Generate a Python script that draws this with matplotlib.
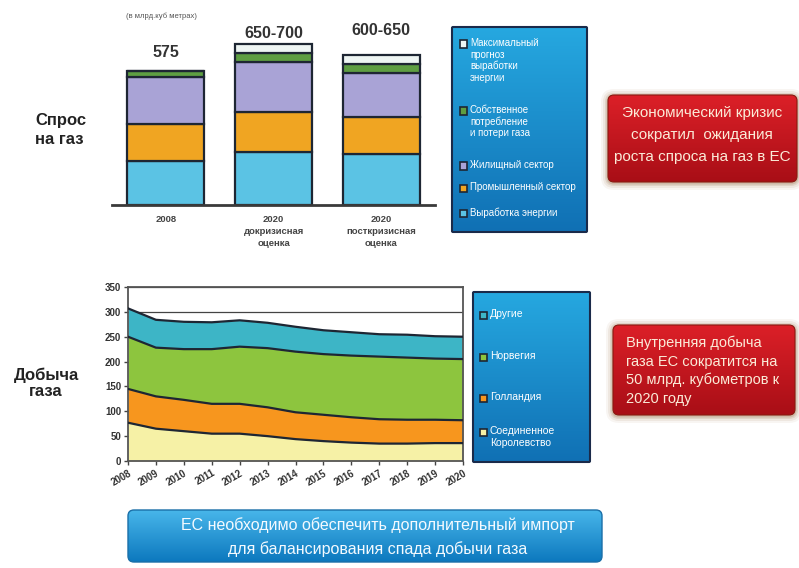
import numpy as np
import matplotlib
matplotlib.use('Agg')
import matplotlib.pyplot as plt
from matplotlib.patches import FancyBboxPatch, Rectangle
from matplotlib.colors import LinearSegmentedColormap

W, H = 799, 568

# ---------------- data ----------------
demand_categories = ['2008', '2020\nдокризисная\nоценка', '2020\nпосткризисная\nоценка']
demand_totals = ['575', '650-700', '600-650']
power_generation = [190, 227, 219]
industrial = [158, 172, 159]
residential = [200, 215, 189]
own_use_losses = [27, 39, 39]
max_power_forecast = [0, 39, 39]
demand_legend = ['Максимальный\nпрогноз\nвыработки\nэнергии',
                 'Собственное\nпотребление\nи потери газа',
                 'Жилищный сектор', 'Промышленный сектор', 'Выработка энергии']

years = list(range(2008, 2021))
uk = [77, 65, 60, 55, 55, 50, 44, 40, 37, 35, 35, 36, 36]
netherlands = [68, 65, 63, 60, 60, 58, 54, 53, 51, 49, 48, 47, 46]
norway = [105, 98, 102, 110, 115, 119, 122, 122, 124, 126, 125, 123, 123]
others = [57, 56, 55, 54, 53, 51, 50, 48, 47, 45, 46, 45, 45]
supply_legend = ['Другие', 'Норвегия', 'Голландия', 'Соединенное\nКоролевство']

# ---------------- styles ----------------
NARROW = ['Liberation Sans Narrow', 'Liberation Sans', 'DejaVu Sans']
SANS = ['Liberation Sans', 'DejaVu Sans']
plt.rcParams['font.family'] = SANS

bar_colors = ['#5BC3E4', '#F0A522', '#A9A3D6', '#5E9E42', '#EEF5F3']
area_colors = ['#F6F1A6', '#F7961E', '#8DC53E', '#3DB5C6']
edge_dark = '#1E2633'

fig = plt.figure(figsize=(W / 100, H / 100), dpi=100)
fig.patch.set_facecolor('white')


def px_axes(x0, y0, x1, y1, **kw):
    return fig.add_axes([x0 / W, 1 - y1 / H, (x1 - x0) / W, (y1 - y0) / H], **kw)


def ftext(x, y, s, **kw):
    return fig.text(x / W, 1 - y / H, s, **kw)


def gradient_box(x0, y0, x1, y1, ctop, cbot, edge, lw, radius, pad=10, shadow=None):
    ax = px_axes(x0 - pad, y0 - pad, x1 + pad, y1 + pad)
    w, h = x1 - x0, y1 - y0
    ax.axis('off')
    if shadow is not None:
        for k, a in [(7, 0.06), (5, 0.09), (3, 0.14), (1.5, 0.2)]:
            ax.add_patch(FancyBboxPatch((radius, radius - 1), w - 2 * radius, h - 2 * radius,
                                        boxstyle=f'round,pad={radius + k}',
                                        fc=shadow, ec='none', alpha=a, zorder=0))
    cmap = LinearSegmentedColormap.from_list('g', [cbot, ctop])
    grad = np.linspace(0, 1, 256).reshape(-1, 1)
    im = ax.imshow(grad, extent=(0, w, 0, h), origin='lower', cmap=cmap, aspect='auto', zorder=1)
    patch = FancyBboxPatch((radius, radius), w - 2 * radius, h - 2 * radius,
                           boxstyle=f'round,pad={radius}', fc='none', ec=edge, lw=lw, zorder=2)
    ax.add_patch(patch)
    im.set_clip_path(patch)
    ax.set_xlim(-pad, w + pad)
    ax.set_ylim(-pad, h + pad)
    return ax


# ---------------- top: demand bar chart ----------------
axb = px_axes(112, 19, 435, 205)
x = np.arange(len(demand_categories))
stack = [power_generation, industrial, residential, own_use_losses, max_power_forecast]
bottom = np.zeros(len(x))
for vals, c in zip(stack, bar_colors):
    axb.bar(x, vals, bottom=bottom, width=0.716, color=c, edgecolor=edge_dark, linewidth=1.6, zorder=2)
    bottom += np.array(vals)
axb.set_xlim(-0.5, 2.5)
axb.set_ylim(0, 798)
for s in ['top', 'left', 'right']:
    axb.spines[s].set_visible(False)
axb.spines['bottom'].set_color('#3A3A3A')
axb.spines['bottom'].set_linewidth(2)
axb.spines['bottom'].set_zorder(3)
axb.set_yticks([])
axb.set_xticks(x)
axb.set_xticklabels(demand_categories, fontsize=6.8, fontweight='bold', color='#444444', linespacing=1.45)
axb.tick_params(axis='x', length=0, pad=7)
axb.patch.set_alpha(0)
total_label_y = [656, 734, 747]
for i, (lab, ly) in enumerate(zip(demand_totals, total_label_y)):
    axb.text(i, ly, lab, ha='center', va='center', fontsize=11.5, fontweight='bold', color='#333333')

ftext(161, 16, '(в млрд.куб метрах)', ha='center', va='center', fontsize=5.5, color='#555555')
ftext(35, 121, 'Спрос', ha='left', va='center', fontsize=12, fontweight='bold', color='#222222')
ftext(35, 139, 'на газ', ha='left', va='center', fontsize=12, fontweight='bold', color='#222222')

# legend box 1
gradient_box(452, 27, 587, 232, '#26A8E0', '#1070B4', '#1A2A4A', 1.5, 1)
leg1_y = [44, 111, 166, 188, 213]
for lab, yy, c in zip(demand_legend, leg1_y, bar_colors[::-1]):
    fig.patches.append(Rectangle(((463 - 3.5) / W, 1 - (yy + 3.5) / H), 7 / W, 7 / H,
                                 transform=fig.transFigure, fc=c, ec=edge_dark, lw=1.2, figure=fig))
    ftext(470, yy - 5.5, lab, ha='left', va='top', fontsize=7, color='white',
          family=NARROW, linespacing=1.15)

# red box 1
gradient_box(608, 95, 797, 182, '#DC2028', '#A80E16', '#8A1A10', 0.8, 6, shadow='#8A5A30')
for line, yy in zip(['Экономический кризис', 'сократил  ожидания', 'роста спроса на газ в ЕС'],
                    [113, 135, 157]):
    ftext(702, yy, line, ha='center', va='center', fontsize=11, color='#FBEBD8', family=NARROW)

# ---------------- bottom: supply stacked area ----------------
axa = px_axes(128, 287, 463, 461)
layers = [uk, netherlands, norway, others]
cum = np.zeros(len(years))
for vals, c in zip(layers, area_colors):
    top = cum + np.array(vals)
    axa.fill_between(years, cum, top, color=c, lw=0, zorder=2)
    axa.plot(years, top, color=edge_dark, lw=1.6, zorder=3)
    cum = top
axa.set_xlim(2008, 2020)
axa.set_ylim(0, 350)
axa.set_yticks(range(0, 351, 50))
axa.set_xticks(years)
axa.grid(axis='y', color='#444444', lw=0.9, zorder=1)
axa.set_axisbelow(True)
for s in axa.spines.values():
    s.set_color('#555555')
    s.set_linewidth(1.3)
axa.tick_params(axis='both', length=3, width=1, color='#444444', labelsize=7, labelcolor='#333333', pad=2)
for lab in axa.get_yticklabels():
    lab.set_fontweight('bold')
for lab in axa.get_xticklabels():
    lab.set_fontweight('bold')
    lab.set_rotation(30)
    lab.set_ha('right')
    lab.set_rotation_mode('anchor')

ftext(46, 375, 'Добыча', ha='center', va='center', fontsize=12, fontweight='bold', color='#222222')
ftext(46, 392, 'газа', ha='center', va='center', fontsize=12, fontweight='bold', color='#222222')

# legend box 2
gradient_box(473, 292, 590, 462, '#26A8E0', '#1070B4', '#1A2A4A', 1.5, 1)
leg2_y = [315, 357, 398, 432]
for lab, yy, c in zip(supply_legend, leg2_y, area_colors[::-1]):
    fig.patches.append(Rectangle(((483 - 3.5) / W, 1 - (yy + 3.5) / H), 7 / W, 7 / H,
                                 transform=fig.transFigure, fc=c, ec=edge_dark, lw=1.2, figure=fig))
    ftext(490, yy - 6, lab, ha='left', va='top', fontsize=7.5, color='white',
          family=NARROW, linespacing=1.2)

# red box 2
gradient_box(613, 325, 795, 415, '#DC2028', '#A80E16', '#8A1A10', 0.8, 6, shadow='#8A5A30')
for line, yy in zip(['Внутренняя добыча', 'газа ЕС сократится на', '50 млрд. кубометров к', '2020 году'],
                    [343, 362, 380, 399]):
    ftext(626, yy, line, ha='left', va='center', fontsize=10.5, color='#FBEBD8', family=NARROW)

# bottom banner
gradient_box(128, 510, 602, 562, '#48B6EA', '#0C78BE', '#1A6FA8', 1, 6)
ftext(378, 525, 'ЕС необходимо обеспечить дополнительный импорт', ha='center', va='center',
      fontsize=11.5, color='#F4FAFF', family=NARROW)
ftext(378, 549, 'для балансирования спада добычи газа', ha='center', va='center',
      fontsize=11.5, color='#F4FAFF', family=NARROW)

fig.savefig('out.png', dpi=100, facecolor='white')
